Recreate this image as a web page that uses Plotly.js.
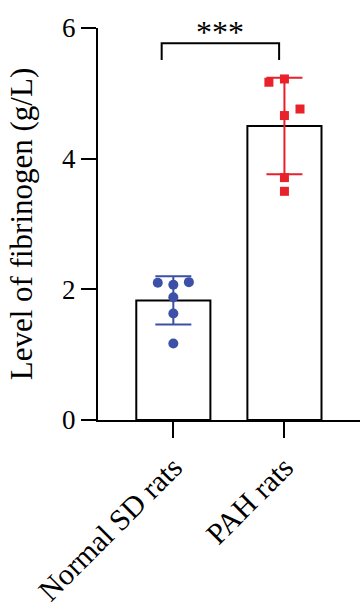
<!DOCTYPE html>
<html><head><meta charset="utf-8">
<script src="https://cdn.plot.ly/plotly-3.0.1.min.js"></script>
<style>html,body{margin:0;padding:0;background:#fff}</style>
</head><body><div id="chart" style="width:362px;height:612px"></div>
<script>
const categories = ['Normal SD rats', 'PAH rats'];
const means = [1.83, 4.50];
const sds = [0.37, 0.74];
const normalValues = [2.10, 2.07, 2.11, 1.88, 1.63, 1.17];
const normalJitter = [-0.14, 0, 0.14, 0, 0, 0];
const pahValues = [5.17, 5.22, 4.76, 4.66, 3.71, 3.50];
const pahJitter = [-0.14, 0, 0.14, 0, 0, 0];
const yTicks = [0, 2, 4, 6];
const sigLabel = '***';

const blue = '#3b50a6';
const red = '#e8212b';
const font = 'Liberation Serif, Times New Roman, serif';
const idx = categories.map((c, i) => i);

const traces = [
  {type: 'bar', x: idx, y: means, width: 0.667,
   marker: {color: '#ffffff', line: {color: '#000000', width: 2}},
   hoverinfo: 'skip'},
  {type: 'scatter', mode: 'lines', x: [idx[0]], y: [means[0]],
   error_y: {type: 'data', array: [sds[0]], visible: true, color: blue, thickness: 2, width: 18},
   line: {color: blue, width: 0}, cliponaxis: false},
  {type: 'scatter', mode: 'lines', x: [idx[1]], y: [means[1]],
   error_y: {type: 'data', array: [sds[1]], visible: true, color: red, thickness: 2, width: 18},
   line: {color: red, width: 0}, cliponaxis: false},
  {type: 'scatter', mode: 'markers', x: normalJitter.map(d => idx[0] + d), y: normalValues,
   marker: {symbol: 'circle', size: 10, color: blue}, cliponaxis: false},
  {type: 'scatter', mode: 'markers', x: pahJitter.map(d => idx[1] + d), y: pahValues,
   marker: {symbol: 'square', size: 9, color: red}, cliponaxis: false}
];

const layout = {
  width: 362, height: 612,
  margin: {l: 98, r: 2, t: 28, b: 192},
  paper_bgcolor: '#ffffff', plot_bgcolor: '#ffffff',
  showlegend: false,
  font: {family: font, color: '#000000', size: 24},
  xaxis: {
    range: [-0.678, 1.68], tickvals: idx, ticktext: categories, tickangle: -45,
    ticks: 'outside', ticklen: 16, tickwidth: 2, tickcolor: '#000',
    showline: true, linewidth: 2, linecolor: '#000', showgrid: false, zeroline: false,
    tickfont: {family: font, size: 30}
  },
  yaxis: {
    range: [0, 6], tickvals: yTicks, ticks: 'outside', ticklen: 15, tickwidth: 2, tickcolor: '#000',
    showline: true, linewidth: 2, linecolor: '#000', showgrid: false, zeroline: false,
    tickfont: {family: font, size: 27},
    title: {text: 'Level of fibrinogen (g/L)', font: {family: font, size: 31}, standoff: 20}
  },
  shapes: [
    {type: 'path', xref: 'x', yref: 'y',
     path: 'M -0.105,5.51 L -0.105,5.766 L 0.952,5.766 L 0.952,5.51',
     line: {color: '#000', width: 2}}
  ],
  annotations: [
    {xref: 'x', yref: 'paper', x: 0.42, y: 0.99, text: sigLabel, showarrow: false,
     font: {family: font, size: 32}, xanchor: 'center', yanchor: 'middle'}
  ]
};

Plotly.newPlot('chart', traces, layout, {staticPlot: true, displayModeBar: false});
</script></body></html>
